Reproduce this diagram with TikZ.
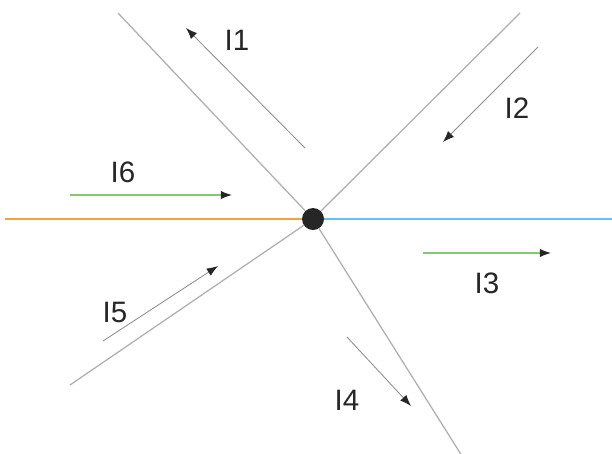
\documentclass[tikz,border=0pt]{standalone}
\usepackage{fontspec}
\setmainfont{Liberation Sans}
\usetikzlibrary{arrows.meta}
\definecolor{linegray}{RGB}{175,175,175}
\definecolor{wiregreen}{RGB}{130,200,110}
\definecolor{wireorange}{RGB}{240,165,60}
\definecolor{wirecyan}{RGB}{100,195,240}
\tikzset{
  wire/.style={linegray, line width=0.9pt},
  current/.style={linegray!80!black, line width=0.6pt,
    -{Latex[length=8pt, width=6pt, color=black!85]}},
  lbl/.style={font=\fontsize{21}{21}\selectfont, text=black!85, inner sep=0pt}
}
\begin{document}
\begin{tikzpicture}[x=0.025cm, y=-0.025cm]
    \useasboundingbox (0,0) rectangle (612,454);
    % Nút và các đầu dây
    \node[circle, fill=black!85, inner sep=0pt, minimum size=0.55cm] (O) at (313,219) {};
    \coordinate (a1) at (118,13);
    \coordinate (a2) at (520,13);
    \coordinate (a3) at (612,219);
    \coordinate (a4) at (462,456);
    \coordinate (a5) at (70,385);
    \coordinate (a6) at (5,219);
    % Các dây dẫn
    \draw[wire] (O) -- (a1);
    \draw[wire] (O) -- (a2);
    \draw[wire] (O) -- (a4);
    \draw[wire] (O) -- (a5);
    \draw[wireorange, line width=0.9pt] (a6) -- (O.west);
    \draw[wirecyan, line width=0.9pt] (O.east) -- (a3);
    % Chiều dòng điện
    \coordinate (s1) at (305,148); \coordinate (e1) at (186,28);
    \coordinate (s2) at (538,47);  \coordinate (e2) at (443,142);
    \coordinate (s3) at (423,253); \coordinate (e3) at (551,253);
    \coordinate (s4) at (347,337); \coordinate (e4) at (411,406);
    \coordinate (s5) at (103,341); \coordinate (e5) at (218,266);
    \coordinate (s6) at (70,195);  \coordinate (e6) at (232,195);
    \draw[current] (s1) -- (e1);
    \draw[current] (s2) -- (e2);
    \draw[current, wiregreen, line width=0.8pt] (s3) -- (e3);
    \draw[current] (s4) -- (e4);
    \draw[current] (s5) -- (e5);
    \draw[current, wiregreen, line width=0.8pt] (s6) -- (e6);
    % Nhãn
    \node[lbl] (I1) at (237,40) {I1};
    \node[lbl] (I2) at (517,108) {I2};
    \node[lbl] (I3) at (487,283) {I3};
    \node[lbl] (I4) at (347,400) {I4};
    \node[lbl] (I5) at (115,312) {I5};
    \node[lbl] (I6) at (123,172) {I6};
\end{tikzpicture}
\end{document}
